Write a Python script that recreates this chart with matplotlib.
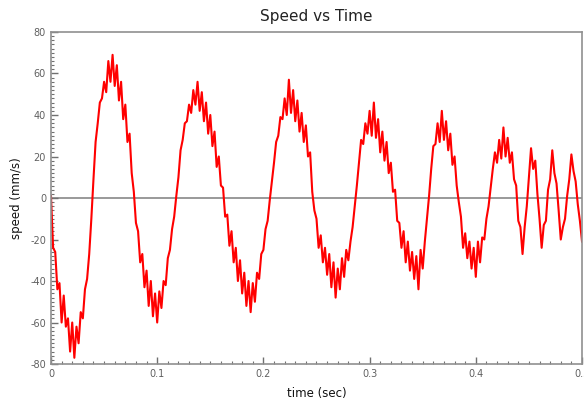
import numpy as np
import matplotlib
matplotlib.use("Agg")
import matplotlib.pyplot as plt
from matplotlib.ticker import MultipleLocator

# speed samples (mm/s), every 2 ms
speed = [
    1, -24, -26, -44, -41, -60, -47, -62, -58, -74,
    -60, -77, -62, -70, -55, -58, -44, -39, -27, -10,
    9, 27, 36, 46, 48, 56, 51, 66, 56, 69,
    54, 64, 47, 56, 38, 45, 27, 31, 12, 3,
    -12, -16, -31, -27, -43, -35, -52, -40, -57, -46,
    -60, -45, -53, -40, -42, -29, -25, -15, -9, 1,
    10, 23, 28, 36, 37, 45, 41, 52, 45, 56,
    42, 51, 37, 46, 31, 40, 25, 32, 15, 20,
    6, 5, -9, -8, -23, -16, -31, -24, -40, -30,
    -46, -36, -52, -40, -55, -41, -50, -36, -39, -27,
    -25, -15, -11, -1, 8, 17, 27, 30, 39, 38,
    48, 40, 57, 41, 52, 37, 47, 32, 41, 27,
    35, 20, 22, 3, -6, -10, -24, -18, -31, -24,
    -37, -27, -43, -31, -48, -34, -44, -29, -38, -25,
    -30, -21, -14, -4, 6, 17, 28, 26, 36, 31,
    42, 30, 46, 29, 38, 22, 32, 18, 27, 12,
    17, 3, 4, -11, -12, -24, -16, -31, -21, -35,
    -26, -39, -28, -44, -25, -34, -21, -10, 1, 14,
    25, 26, 36, 27, 42, 28, 37, 23, 31, 16,
    20, 6, -2, -9, -24, -17, -29, -21, -34, -24,
    -38, -21, -31, -19, -20, -10, -4, 5, 14, 22,
    17, 28, 19, 34, 20, 29, 17, 22, 9, 6,
    -11, -14, -27, -14, -4, 10, 24, 14, 18, 2,
    -10, -24, -13, -11, 4, 9, 23, 12, 7, -6,
    -20, -14, -10, 1, 9, 21, 13, 8, -3, -11,
    -21,
]
dt = 0.002
time = np.arange(len(speed)) * dt

x_ticks = [0, 0.1, 0.2, 0.3, 0.4, 0.5]
x_labels = ["0", "0.1", "0.2", "0.3", "0.4", "0.5"]
y_ticks = [-80, -60, -40, -20, 0, 20, 40, 60, 80]
y_labels = ["-80", "-60", "-40", "-20", "0", "20", "40", "60", "80"]

fig = plt.figure(figsize=(5.84, 4.05), dpi=100)
ax = fig.add_axes([0.0873, 0.1012, 0.9093, 0.8198])

ax.axhline(0, color="#999999", linewidth=1.4, zorder=1)
ax.plot(time, speed, color="#ff0000", linewidth=1.5, zorder=2)

ax.set_xlim(0, 0.5)
ax.set_ylim(-80, 80)

ax.set_xticks(x_ticks)
ax.set_xticklabels(x_labels)
ax.set_yticks(y_ticks)
ax.set_yticklabels(y_labels)
ax.xaxis.set_minor_locator(MultipleLocator(0.01))
ax.yaxis.set_minor_locator(MultipleLocator(2))

ax.tick_params(which="both", direction="in", colors="#707070",
               labelcolor="#606060", labelsize=7, top=False, right=False)
ax.tick_params(which="major", length=5, width=1)
ax.tick_params(which="minor", length=2.5, width=0.8)

for side in ax.spines.values():
    side.set_color("#909090")
    side.set_linewidth(1.2)

ax.set_title("Speed vs Time", fontsize=11, color="#222222", pad=8)
ax.set_xlabel("time (sec)", fontsize=8.5, color="#111111", labelpad=6)
ax.set_ylabel("speed (mm/s)", fontsize=8.5, color="#111111", labelpad=5)

fig.savefig("out.png", dpi=100)
